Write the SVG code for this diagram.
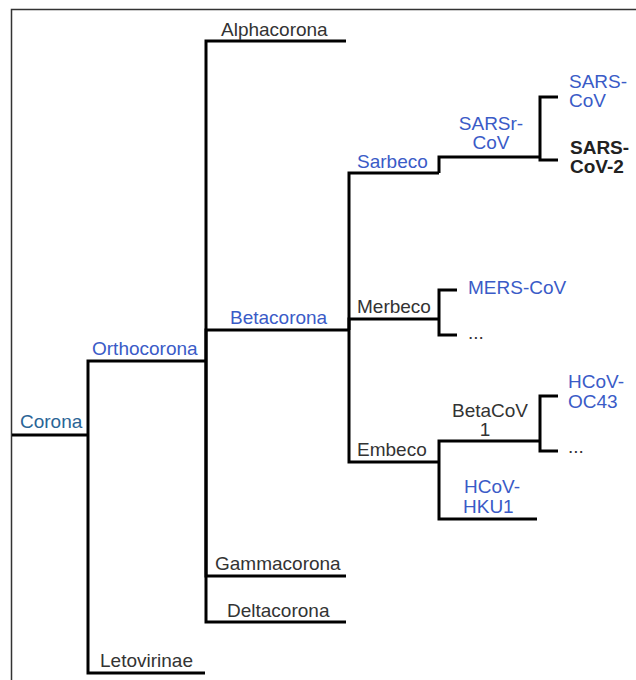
<svg xmlns="http://www.w3.org/2000/svg" width="636" height="680" viewBox="0 0 636 680">
<style>
text{font-family:"Liberation Sans",Arial,sans-serif;font-size:19px}
.k{fill:#333}
.b{fill:#3a5bc7}
.c{fill:#2a6496}
.bold{font-weight:bold;fill:#222}
.m{text-anchor:middle}
.e{fill:none;stroke:#000;stroke-width:3;stroke-linejoin:miter}
</style>
<rect width="636" height="680" fill="#fff"/>
<path d="M11.5,690 V9.5 H640" fill="none" stroke="#333" stroke-width="1.5"/>
<g id="connectors">
<path class="e" d="M12,435 H88"/>
<path class="e" d="M88,435 V361 H206"/>
<path class="e" d="M88,435 V673 H205"/>
<path class="e" d="M206,361 V41 H346"/>
<path class="e" d="M206,361 V330 H349"/>
<path class="e" d="M206,361 V576 H346"/>
<path class="e" d="M206,361 V622 H346"/>
<path class="e" d="M349,330 V173 H439"/>
<path class="e" d="M439,173 V157 H540"/>
<path class="e" d="M540,157 V97 H558"/>
<path class="e" d="M540,157 V160 H558"/>
<path class="e" d="M349,330 V319 H439"/>
<path class="e" d="M439,319 V290 H457"/>
<path class="e" d="M439,319 V335 H457"/>
<path class="e" d="M349,330 V462 H439"/>
<path class="e" d="M439,462 V441 H540"/>
<path class="e" d="M439,462 V519 H537"/>
<path class="e" d="M540,441 V396 H558"/>
<path class="e" d="M540,441 V451 H558"/>
</g>
<g id="corona"><text class="c" x="20" y="428">Corona</text></g>
<g id="orthocorona"><text class="b" x="92" y="355">Orthocorona</text></g>
<g id="letovirinae"><text class="k" x="100" y="667">Letovirinae</text></g>
<g id="alphacorona"><text class="k" x="221" y="36">Alphacorona</text></g>
<g id="betacorona"><text class="b" x="230" y="324">Betacorona</text></g>
<g id="gammacorona"><text class="k" x="215" y="570">Gammacorona</text></g>
<g id="deltacorona"><text class="k" x="227" y="617">Deltacorona</text></g>
<g id="sarbeco"><text class="b" x="357" y="168">Sarbeco</text></g>
<g id="sarsr-cov"><text class="b m" x="491" y="130">SARSr-</text><text class="b m" x="491" y="149">CoV</text></g>
<g id="sars-cov"><text class="b" x="569" y="88">SARS-</text><text class="b" x="569" y="107">CoV</text></g>
<g id="sars-cov-2"><text class="bold" x="570" y="154">SARS-</text><text class="bold" x="570" y="173">CoV-2</text></g>
<g id="merbeco"><text class="k" x="357" y="313">Merbeco</text></g>
<g id="mers-cov"><text class="b" x="468" y="294">MERS-CoV</text></g>
<g id="merbeco-other"><text class="k" x="468" y="339">...</text></g>
<g id="embeco"><text class="k" x="357" y="456">Embeco</text></g>
<g id="betacov1"><text class="k m" x="490" y="417">BetaCoV</text><text class="k m" x="485" y="436">1</text></g>
<g id="hcov-oc43"><text class="b" x="568" y="388">HCoV-</text><text class="b" x="568" y="408">OC43</text></g>
<g id="betacov1-other"><text class="k" x="568" y="453">...</text></g>
<g id="hcov-hku1"><text class="b m" x="492" y="493">HCoV-</text><text class="b" x="463" y="513">HKU1</text></g>
</svg>
